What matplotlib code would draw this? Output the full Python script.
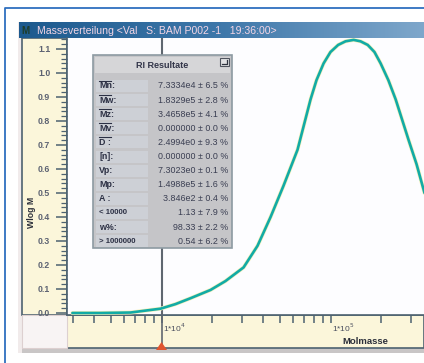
import numpy as np
import matplotlib
matplotlib.use('Agg')
import matplotlib.pyplot as plt
from matplotlib.patches import Rectangle, Polygon
from matplotlib.lines import Line2D
from matplotlib.ticker import FixedLocator, NullFormatter
from matplotlib.colors import LinearSegmentedColormap

# ---------------- data ----------------
molmasse = [2970, 4360, 6560, 9870, 12100, 14900, 19500, 23900, 30600, 37000,
            44200, 52700, 63800, 76200, 82600, 91000, 100000, 111000, 122700,
            137000, 150600, 166000, 182000, 198000, 220000, 243000, 290000,
            323000, 360000]
wlogm = [0.0, 0.0, 0.002, 0.018, 0.037, 0.062, 0.096, 0.133, 0.19, 0.28,
         0.40, 0.53, 0.68, 0.89, 0.97, 1.04, 1.0875, 1.117, 1.132,
         1.138, 1.132, 1.117, 1.0875, 1.04, 0.97, 0.89, 0.72,
         0.62, 0.50]

y_ticks = [0.0, 0.1, 0.2, 0.3, 0.4, 0.5, 0.6, 0.7, 0.8, 0.9, 1.0, 1.1]
y_tick_labels = ['0.0', '0.1', '0.2', '0.3', '0.4', '0.5', '0.6', '0.7', '0.8', '0.9', '1.0', '1.1']
x_major = [1e4, 1e5]
x_major_labels = ['1*10$^{4}$', '1*10$^{5}$']
x_minor = [3000, 4000, 5000, 6000, 7000, 8000, 9000,
           20000, 30000, 40000, 50000, 60000, 70000, 80000, 90000,
           200000, 300000]
cursor_x = 1e4

title_text = 'Masseverteilung <Val   S: BAM P002 -1   19:36:00>'
box_title = 'RI Resultate'
result_labels = ['Mn:', 'Mw:', 'Mz:', 'Mv:', 'D :', '[n]:', 'Vp:', 'Mp:', 'A :',
                 '< 10000', 'w%:', '> 1000000']
result_values = ['7.3334e4', '1.8329e5', '3.4658e5', '0.000000', '2.4994e0',
                 '0.000000', '7.3023e0', '1.4988e5', '3.846e2', '1.13', '98.33', '0.54']
result_errors = ['6.5', '2.8', '4.1', '0.0', '9.3', '0.0', '0.1', '1.6', '0.4',
                 '7.9', '2.2', '6.2']
overlined = [True, True, True, True, True, False, False, False, False, False, False, False]

# ---------------- figure ----------------
W, H = 424, 363
fig = plt.figure(figsize=(4.24, 3.63), dpi=100)
fig.patch.set_facecolor('white')
FONT = ['Liberation Sans', 'DejaVu Sans']


def fx(x):
    return x / W


def fy(y):
    return 1 - y / H


def rect(x0, y0, x1, y1, zorder=0, **kw):
    r = Rectangle((fx(x0), fy(y1)), (x1 - x0) / W, (y1 - y0) / H,
                  transform=fig.transFigure, zorder=zorder, **kw)
    fig.add_artist(r)
    return r


def line(xs, ys, zorder=1, **kw):
    fig.add_artist(Line2D([fx(x) for x in xs], [fy(y) for y in ys],
                          transform=fig.transFigure, zorder=zorder, **kw))


# outer blue frame
line([5, 5, 424], [363, 7.5, 7.5], color='#2f6fbf', lw=1.3, zorder=0)

# screenshot background
rect(18, 22, 424, 353, fc='#f1ebeb', ec='none', zorder=0)
rect(22, 348, 424, 353, fc='#c9c6c6', ec='none', zorder=0)

# title bar gradient
ax_t = fig.add_axes([fx(19), fy(38), (424 - 19) / W, 16 / H])
cmap = LinearSegmentedColormap.from_list('tb', ['#1d5a8e', '#3f78aa', '#7ea7cb'])
ax_t.imshow(np.linspace(0, 1, 256)[None, :], aspect='auto', cmap=cmap,
            extent=[0, 1, 0, 1])
ax_t.set_axis_off()
ax_t.text(0.045, 0.45, title_text, color='#f3d6e6', fontsize=7.6,
          family=FONT, va='center', ha='left', transform=ax_t.transAxes)
ax_t.text(0.006, 0.45, 'M', color='#1e3d2a', fontsize=7, fontweight='bold',
          family=FONT, va='center', ha='left', transform=ax_t.transAxes)

# y panel, x panel and bottom-left corner
rect(22, 38, 67, 315, fc='#fbf6da', ec='#4d6270', lw=1.2, zorder=0)
rect(67, 315, 424, 348, fc='#fbf6da', ec='#4d6270', lw=1.2, zorder=0)
rect(22, 315, 67, 348, fc='#f8f4f4', ec='#ddd0d0', lw=0.8, zorder=0)

# ---------------- main axes ----------------
ax = fig.add_axes([fx(67), fy(315), (424 - 67) / W, (315 - 38) / H])
ax.set_facecolor('#fdfdff')
ax.set_xscale('log')
ax.set_xlim(10 ** (4 + (67 - 161.5) / 169.0), 10 ** (4 + (424 - 161.5) / 169.0))
ax.set_ylim((313 - 315) / 240.0, (313 - 38) / 240.0)

for s in ['top', 'right']:
    ax.spines[s].set_visible(False)
for s in ['left', 'bottom']:
    ax.spines[s].set_color('#4d6270')
    ax.spines[s].set_linewidth(1.2)

# curve with faint yellow halo
ax.plot(molmasse, wlogm, color='#f6f0b8', lw=2.8, solid_joinstyle='round',
        solid_capstyle='round', zorder=3)
ax.plot(molmasse, wlogm, color='#12aba6', lw=1.9, solid_joinstyle='round',
        solid_capstyle='round', zorder=4)

# cursor line
ax.axvline(cursor_x, color='#5f6770', lw=1.5, zorder=2)

# y ticks
ax.yaxis.set_major_locator(FixedLocator(y_ticks))
ax.set_yticklabels(y_tick_labels)
ax.yaxis.set_minor_locator(FixedLocator(list(np.arange(0.0, 1.15, 0.02))))
ax.tick_params(axis='y', which='major', direction='out', length=8, width=1.1,
               color='#4d6270', labelsize=6.3, labelcolor='#5c6272', pad=4)
ax.tick_params(axis='y', which='minor', direction='out', length=4, width=0.9,
               color='#4d6270')
for t in ax.get_yticklabels():
    t.set_family(FONT)
    t.set_fontweight('bold')

# x ticks
ax.xaxis.set_major_locator(FixedLocator(x_major))
ax.xaxis.set_minor_locator(FixedLocator(x_minor))
ax.xaxis.set_major_formatter(NullFormatter())
ax.xaxis.set_minor_formatter(NullFormatter())
ax.tick_params(axis='x', which='both', direction='out', length=6, width=1.1,
               color='#4d6270')
for xv, lab in zip(x_major, x_major_labels):
    ax.text(xv * 1.02, -0.045, lab, transform=ax.get_xaxis_transform(),
            ha='left', va='center', fontsize=6, color='#4a4f5e', family=FONT,
            clip_on=False)

# red cursor marker at bottom
fig.add_artist(Polygon([[fx(156), fy(350)], [fx(167), fy(350)], [fx(161.5), fy(342)]],
                       closed=True, transform=fig.transFigure, fc='#e0552f',
                       ec='none', zorder=5))
line([161.5, 161.5], [315, 345], color='#5f6770', lw=1.2, zorder=4)

# axis labels
fig.text(fx(365), fy(341.5), 'Molmasse', fontsize=6.8, fontweight='bold',
         color='#2b2f3a', family=FONT, ha='center', va='center')
fig.text(fx(31), fy(212), 'Wlog M', fontsize=6.3, fontweight='bold',
         color='#2b2f3a', family=FONT, ha='center', va='center', rotation=90)

# ---------------- results box ----------------
bx0, by0, bx1, by1 = 93, 55, 232, 248
rect(bx0, by0, bx1, by1, fc='#c5c5c8', ec='#8d9aa2', lw=1.2, zorder=10)
rect(bx0 + 2, by0 + 2, bx1 - 2, by0 + 18, fc='#d6d6d8', ec='none', zorder=10)
fig.text(fx(162), fy(65), box_title, fontsize=6.5, fontweight='bold',
         color='#33364a', family=FONT, ha='center', va='center', zorder=11)
rect(220, 58, 229, 66, fc='#e2e2e4', ec='#50545e', lw=0.8, zorder=11)
line([222, 227, 227], [64, 64, 60], color='#303440', lw=0.9, zorder=12)

row_y0, row_dy = 86, 14.1
for i, (lab, val, err, ov) in enumerate(zip(result_labels, result_values,
                                             result_errors, overlined)):
    yy = row_y0 + i * row_dy
    rect(bx0 + 3, yy - 6, 148, yy + 6, fc='#cdd0d6', ec='none', zorder=10)
    small = lab.startswith('<') or lab.startswith('>')
    fig.text(fx(99), fy(yy), lab, fontsize=5.6 if small else 6.4,
             fontweight='bold', color='#2c3044', family=FONT,
             ha='left', va='center', zorder=11)
    if ov:
        line([99, 111], [yy - 5.5, yy - 5.5], color='#2c3044', lw=0.8, zorder=12)
    fig.text(fx(228), fy(yy), f'{val} \u00b1 {err} %', fontsize=6.4,
             color='#3a3e52', family=FONT, ha='right', va='center', zorder=11)

fig.savefig('out.png', dpi=100)
